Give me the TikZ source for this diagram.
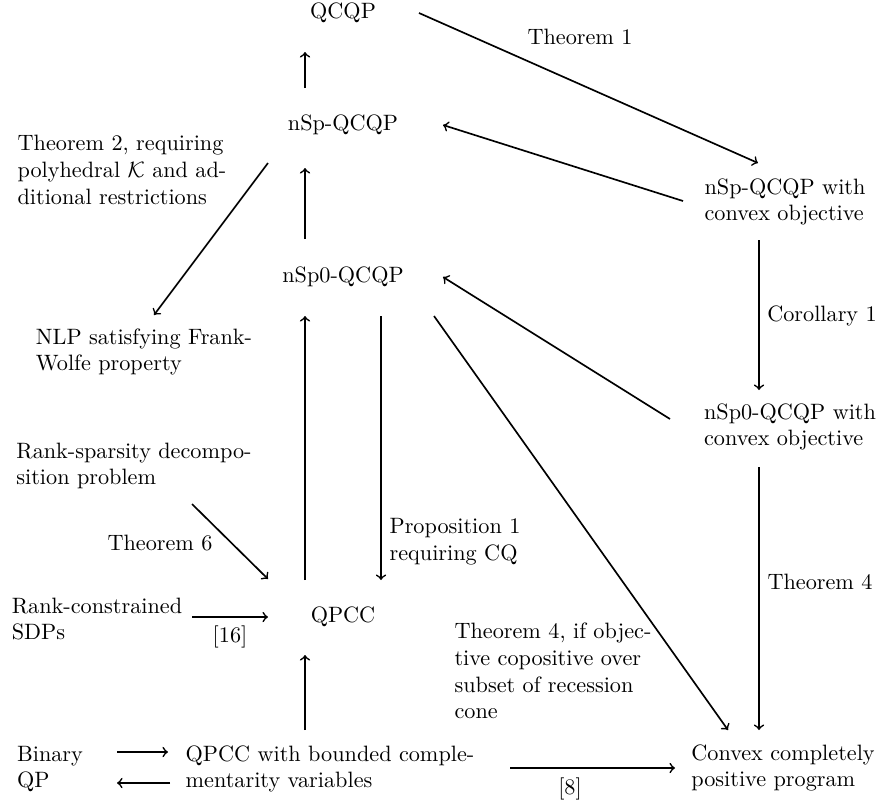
\documentclass[tikz,border=0pt]{standalone}
\usepackage{tikz}
\usetikzlibrary{calc}

\begin{document}
\begin{tikzpicture}[x=0.45pt,y=-0.45pt,
  prob/.style={inner sep=0pt, align=left},
  lbl/.style={inner sep=0pt, align=left},
  arr/.style={->, line width=0.75pt}]
\useasboundingbox (0,0) rectangle (882,803);
% Problem classes
\node[prob] (qcqp) at (343,13) {QCQP};
\node[prob] (nsp) at (343,125) {nSp-QCQP};
\node[prob] (nspz) at (343,277) {nSp0-QCQP};
\node[prob] (qpcc) at (343,617) {QPCC};
\node[prob] (qpccb) at (330,769) {QPCC with bounded comple-\\mentarity variables};
\node[prob] (binqp) at (50,769) {Binary\\QP};
\node[prob] (cpp) at (783,768) {Convex completely\\positive program};
\node[prob] (nspcvx) at (785,202) {nSp-QCQP with\\convex objective};
\node[prob] (nspzcvx) at (790,427) {nSp0-QCQP with\\convex objective};
\node[prob] (nlp) at (144,352) {NLP satisfying Frank-\\Wolfe property};
\node[prob] (ranksp) at (134,466) {Rank-sparsity decompo-\\sition problem};
\node[prob] (rankc) at (97,619) {Rank-constrained\\SDPs};
% Reductions
\draw[arr] ($(nsp)+(-38,-37)$) -- ($(qcqp)+(-38,39)$);
\draw[arr] ($(nspz)+(-38,-38)$) -- ($(nsp)+(-38,43)$);
\draw[arr] ($(qpcc)+(-38,-37)$) -- ($(nspz)+(-38,39)$);
\draw[arr] ($(nspz)+(38,39)$) -- ($(qpcc)+(38,-37)$);
\draw[arr] ($(qpccb)+(-25,-39)$) -- ($(qpcc)+(-38,38)$);
\draw[arr] ($(binqp)+(67,-17)$) -- ($(qpccb)+(-162,-17)$);
\draw[arr] ($(qpccb)+(-160,14)$) -- ($(binqp)+(67,14)$);
\draw[arr] ($(qpccb)+(180,-1)$) -- ($(cpp)+(-108,0)$);
\draw[arr] ($(rankc)+(95,-2)$) -- ($(qpcc)+(-75,0)$);
\draw[arr] ($(ranksp)+(58,38)$) -- ($(qpcc)+(-75,-38)$);
\draw[arr] ($(nsp)+(-75,38)$) -- ($(nlp)+(10,-37)$);
\draw[arr] ($(qcqp)+(76,0)$) -- ($(nspcvx)+(-27,-39)$);
\draw[arr] ($(nspcvx)+(-102,-1)$) -- ($(nsp)+(100,0)$);
\draw[arr] ($(nspcvx)+(-26,38)$) -- ($(nspzcvx)+(-31,-37)$);
\draw[arr] ($(nspzcvx)+(-120,-8)$) -- ($(nspz)+(100,0)$);
\draw[arr] ($(nspzcvx)+(-31,40)$) -- ($(cpp)+(-24,-38)$);
\draw[arr] ($(nspz)+(91,39)$) -- ($(cpp)+(-55,-38)$);
% Labels
\node[lbl] (thm1) at (580,37) {Theorem 1};
\node[lbl] (thm2) at (122,170) {Theorem 2, requiring\\polyhedral $\mathcal{K}$ and ad-\\ditional restrictions};
\node[lbl] (thm6) at (160,543) {Theorem 6};
\node[lbl] (ref16) at (230,637) {[16]};
\node[lbl] (prop1) at (455,542) {Proposition 1\\requiring CQ};
\node[lbl] (cor1) at (822,316) {Corollary 1};
\node[lbl] (thm4) at (820,582) {Theorem 4};
\node[lbl] (thm4c) at (553,671) {Theorem 4, if objec-\\tive copositive over\\subset of recession\\cone};
\node[lbl] (ref8) at (570,789) {[8]};
\end{tikzpicture}
\end{document}
